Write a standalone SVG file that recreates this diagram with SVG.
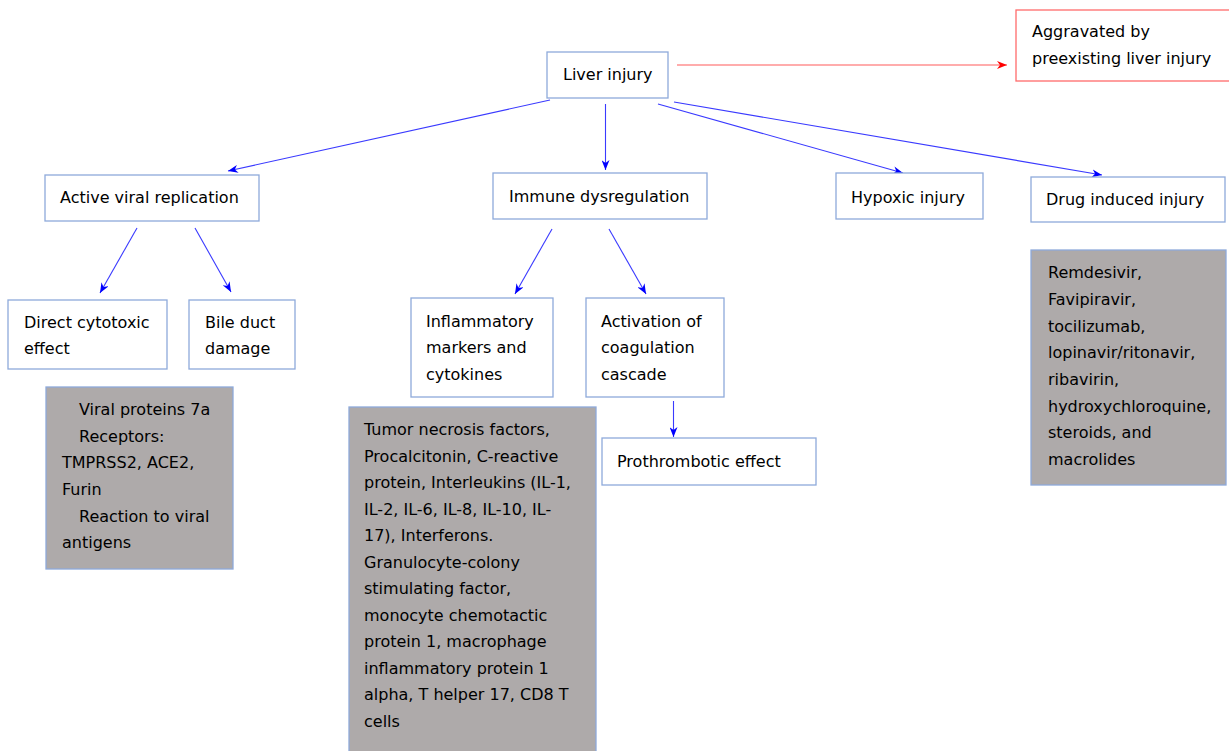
<svg xmlns="http://www.w3.org/2000/svg" width="1229" height="751" viewBox="0 0 1229 751">
<style>
text{font-family:"DejaVu Sans","Verdana",sans-serif;font-size:16px;fill:#000}
.n{fill:#fff;stroke:#8eaadb;stroke-width:1.3}
.g{fill:#aeaaaa;stroke:#8eaadb;stroke-width:1.3}
.r{fill:#fff;stroke:#ff6b6b;stroke-width:1.3}
.c{stroke:#3a3aff;stroke-width:1.1;fill:none;marker-end:url(#ab)}
.cr{stroke:#ff5a5a;stroke-width:1.1;fill:none;marker-end:url(#ar)}
</style>
<defs>
<marker id="ab" viewBox="0 0 10 8" refX="10" refY="4" markerWidth="10" markerHeight="8" markerUnits="userSpaceOnUse" orient="auto"><path d="M0,0 L10,4 L0,8 L3,4 z" fill="#0000ff"/></marker>
<marker id="ar" viewBox="0 0 10 8" refX="10" refY="4" markerWidth="10" markerHeight="8" markerUnits="userSpaceOnUse" orient="auto"><path d="M0,0 L10,4 L0,8 L3,4 z" fill="#ff0000"/></marker>
</defs>
<rect width="1229" height="751" fill="#fff"/>
<g id="connectors">
<line class="cr" x1="677" y1="65" x2="1007" y2="65"/>
<line class="c" x1="550" y1="100" x2="228" y2="171"/>
<line class="c" x1="605.5" y1="104" x2="605.5" y2="170"/>
<line class="c" x1="658" y1="104" x2="903" y2="173"/>
<line class="c" x1="674" y1="102" x2="1102" y2="175"/>
<line class="c" x1="137" y1="228" x2="100" y2="293"/>
<line class="c" x1="195" y1="228" x2="231" y2="292"/>
<line class="c" x1="552" y1="229" x2="515" y2="294"/>
<line class="c" x1="609" y1="229" x2="646" y2="294"/>
<line class="c" x1="673.5" y1="401" x2="673.5" y2="437"/>
</g>
<g id="liver"><rect class="n" x="547" y="52" width="121" height="46"/><text x="563" y="80">Liver injury</text></g>
<g id="aggravated"><rect class="r" x="1016" y="10" width="220" height="71"/><text x="1032" y="37">Aggravated by</text><text x="1032" y="64">preexisting liver injury</text></g>
<g id="viral"><rect class="n" x="45" y="175" width="214" height="46"/><text x="60" y="203">Active viral replication</text></g>
<g id="immune"><rect class="n" x="493" y="173" width="214" height="46"/><text x="509" y="202">Immune dysregulation</text></g>
<g id="hypoxic"><rect class="n" x="836" y="173" width="147" height="46"/><text x="851" y="203">Hypoxic injury</text></g>
<g id="drug"><rect class="n" x="1031" y="177" width="194" height="45"/><text x="1046" y="205">Drug induced injury</text></g>
<g id="cytotoxic"><rect class="n" x="8" y="300" width="159" height="69"/><text x="24" y="328">Direct cytotoxic</text><text x="24" y="354">effect</text></g>
<g id="bile"><rect class="n" x="189" y="300" width="106" height="69"/><text x="205" y="328">Bile duct</text><text x="205" y="354">damage</text></g>
<g id="inflammatory"><rect class="n" x="411" y="298" width="142" height="99"/><text x="426" y="327">Inflammatory</text><text x="426" y="353">markers and</text><text x="426" y="380">cytokines</text></g>
<g id="coagulation"><rect class="n" x="586" y="298" width="138" height="99"/><text x="601" y="327">Activation of</text><text x="601" y="353">coagulation</text><text x="601" y="380">cascade</text></g>
<g id="prothrombotic"><rect class="n" x="602" y="438" width="214" height="47"/><text x="617" y="467">Prothrombotic effect</text></g>
<g id="viral-details"><rect class="g" x="46" y="387" width="187" height="182"/>
<text x="79" y="415">Viral proteins 7a</text><text x="79" y="442">Receptors:</text><text x="62" y="468">TMPRSS2, ACE2,</text><text x="62" y="495">Furin</text><text x="79" y="522">Reaction to viral</text><text x="62" y="548">antigens</text></g>
<g id="cytokine-details"><rect class="g" x="349" y="407" width="247" height="350"/>
<text x="364" y="435">Tumor necrosis factors,</text>
<text x="364" y="461.5">Procalcitonin, C-reactive</text>
<text x="364" y="488">protein, Interleukins (IL-1,</text>
<text x="364" y="514.5">IL-2, IL-6, IL-8, IL-10, IL-</text>
<text x="364" y="541">17), Interferons.</text>
<text x="364" y="567.5">Granulocyte-colony</text>
<text x="364" y="594">stimulating factor,</text>
<text x="364" y="620.5">monocyte chemotactic</text>
<text x="364" y="647">protein 1, macrophage</text>
<text x="364" y="673.5">inflammatory protein 1</text>
<text x="364" y="700">alpha, T helper 17, CD8 T</text>
<text x="364" y="726.5">cells</text></g>
<g id="drug-details"><rect class="g" x="1031" y="250" width="195" height="235"/>
<text x="1048" y="278">Remdesivir,</text>
<text x="1048" y="305">Favipiravir,</text>
<text x="1048" y="331.5">tocilizumab,</text>
<text x="1048" y="358">lopinavir/ritonavir,</text>
<text x="1048" y="385">ribavirin,</text>
<text x="1048" y="411.5">hydroxychloroquine,</text>
<text x="1048" y="438">steroids, and</text>
<text x="1048" y="465">macrolides</text></g>
</svg>
